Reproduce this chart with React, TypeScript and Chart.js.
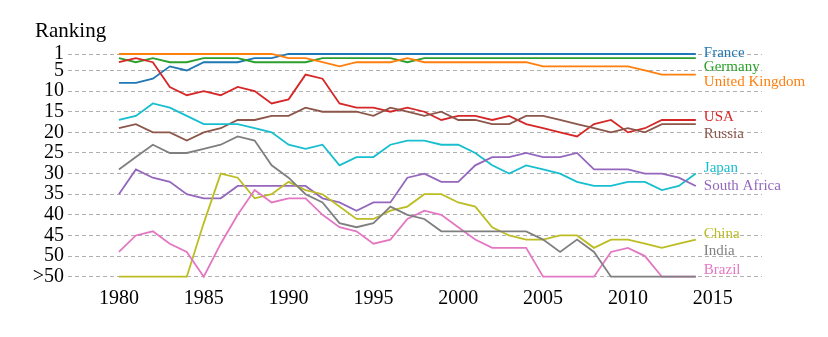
import React, { useEffect, useRef } from "react";
import { Chart, registerables } from "chart.js";

Chart.register(...registerables);

// ---------- data ----------
const years = [
  1980, 1981, 1982, 1983, 1984, 1985, 1986, 1987, 1988, 1989,
  1990, 1991, 1992, 1993, 1994, 1995, 1996, 1997, 1998, 1999,
  2000, 2001, 2002, 2003, 2004, 2005, 2006, 2007, 2008, 2009,
  2010, 2011, 2012, 2013, 2014,
];

const xTickValues = [1980, 1985, 1990, 1995, 2000, 2005, 2010, 2015];
const yTickValues = [1, 5, 10, 15, 20, 25, 30, 35, 40, 45, 50, 55];
const yTickLabels = ["1", "5", "10", "15", "20", "25", "30", "35", "40", "45", "50", ">50"];

const france = [8, 8, 7, 4, 5, 3, 3, 3, 2, 2, 1, 1, 1, 1, 1, 1, 1, 1, 1, 1, 1, 1, 1, 1, 1, 1, 1, 1, 1, 1, 1, 1, 1, 1, 1];
const germany = [2, 3, 2, 3, 3, 2, 2, 2, 3, 3, 3, 3, 2, 2, 2, 2, 2, 3, 2, 2, 2, 2, 2, 2, 2, 2, 2, 2, 2, 2, 2, 2, 2, 2, 2];
const unitedKingdom = [1, 1, 1, 1, 1, 1, 1, 1, 1, 1, 2, 2, 3, 4, 3, 3, 3, 2, 3, 3, 3, 3, 3, 3, 3, 4, 4, 4, 4, 4, 4, 5, 6, 6, 6];
const usa = [3, 2, 3, 9, 11, 10, 11, 9, 10, 13, 12, 6, 7, 13, 14, 14, 15, 14, 15, 17, 16, 16, 17, 16, 18, 19, 20, 21, 18, 17, 20, 19, 17, 17, 17];
const russia = [19, 18, 20, 20, 22, 20, 19, 17, 17, 16, 16, 14, 15, 15, 15, 16, 14, 15, 16, 15, 17, 17, 18, 18, 16, 16, 17, 18, 19, 20, 19, 20, 18, 18, 18];
const japan = [17, 16, 13, 14, 16, 18, 18, 18, 19, 20, 23, 24, 23, 28, 26, 26, 23, 22, 22, 23, 23, 25, 28, 30, 28, 29, 30, 32, 33, 33, 32, 32, 34, 33, 30];
const southAfrica = [35, 29, 31, 32, 35, 36, 36, 33, 33, 33, 33, 33, 36, 37, 39, 37, 37, 31, 30, 32, 32, 28, 26, 26, 25, 26, 26, 25, 29, 29, 29, 30, 30, 31, 33];
const china = [55, 55, 55, 55, 55, 42, 30, 31, 36, 35, 32, 34, 35, 38, 41, 41, 39, 38, 35, 35, 37, 38, 43, 45, 46, 46, 45, 45, 48, 46, 46, 47, 48, 47, 46];
const india = [29, 26, 23, 25, 25, 24, 23, 21, 22, 28, 31, 35, 37, 42, 43, 42, 38, 40, 41, 44, 44, 44, 44, 44, 44, 46, 49, 46, 49, 55, 55, 55, 55, 55, 55];
const brazil = [49, 45, 44, 47, 49, 55, 47, 40, 34, 37, 36, 36, 40, 43, 44, 47, 46, 41, 39, 40, 43, 46, 48, 48, 48, 55, 55, 55, 55, 49, 48, 50, 55, 55, 55];

const seriesNames = ["France", "Germany", "United Kingdom", "USA", "Russia", "Japan", "South Africa", "China", "India", "Brazil"];
const seriesValues = [france, germany, unitedKingdom, usa, russia, japan, southAfrica, china, india, brazil];

// ---------- style ----------
const seriesColors = ["#1f77b4", "#2ca02c", "#ff7f0e", "#d62728", "#8c564b", "#17becf", "#9467bd", "#bcbd22", "#7f7f7f", "#e377c2"];
// vertical nudge (px) of each end label from its line's last point
const labelNudge = [-0.5, 8.5, 7.5, -2.5, 9.5, -5.5, 0, -6, -25.5, -7];
const SERIF = "'Liberation Serif', 'Times New Roman', serif";

const endLabels = {
  id: "endLabels",
  afterDraw(chart: any) {
    const ctx = chart.ctx;
    const xs = chart.scales.x;
    const ys = chart.scales.y;
    ctx.save();
    ctx.font = `15px ${SERIF}`;
    ctx.textBaseline = "middle";
    ctx.textAlign = "left";
    seriesValues.forEach((vals, i) => {
      const last = vals[vals.length - 1];
      const px = xs.getPixelForValue(years[years.length - 1]) + 8;
      const py = ys.getPixelForValue(last) + labelNudge[i];
      ctx.fillStyle = seriesColors[i];
      ctx.fillText(seriesNames[i], px, py);
    });
    ctx.font = `21px ${SERIF}`;
    ctx.fillStyle = "#000";
    ctx.fillText("Ranking", 35, 31);
    ctx.restore();
  },
};

export default function App() {
  const ref = useRef<HTMLCanvasElement | null>(null);

  useEffect(() => {
    if (!ref.current) return;
    const datasets = seriesValues.map((vals, i) => ({
      label: seriesNames[i],
      data: years.map((yr, k) => ({ x: yr, y: vals[k] })),
      borderColor: seriesColors[i],
      backgroundColor: seriesColors[i],
      borderWidth: 1.8,
      pointRadius: 0,
      tension: 0,
      fill: false,
      clip: false as any,
      order: seriesNames[i] === "India" ? 0 : 10 - i,
    }));

    const chart = new Chart(ref.current, {
      type: "line",
      data: { datasets },
      options: {
        animation: false,
        responsive: false,
        devicePixelRatio: 1,
        parsing: false as any,
        layout: { padding: { left: 0, top: 54, right: 66, bottom: 0 } },
        plugins: { legend: { display: false }, tooltip: { enabled: false }, title: { display: false } },
        scales: {
          x: {
            type: "linear",
            min: 1977,
            max: 2017.9,
            grid: { display: false, drawTicks: false },
            border: { display: false },
            afterBuildTicks: (scale: any) => {
              scale.ticks = xTickValues.map((v) => ({ value: v }));
            },
            afterFit: (scale: any) => {
              scale.height = 60.3;
            },
            ticks: {
              color: "#000",
              font: { family: SERIF, size: 20 },
              padding: 10,
              maxRotation: 0,
              autoSkip: false,
              callback: (v: any) => String(v),
            },
          },
          y: {
            type: "linear",
            reverse: true,
            min: 1,
            max: 55,
            grid: { color: "#b0b0b0", lineWidth: 1, drawTicks: false },
            border: { display: false, dash: [4, 3] },
            afterBuildTicks: (scale: any) => {
              scale.ticks = yTickValues.map((v) => ({ value: v }));
            },
            afterFit: (scale: any) => {
              scale.width = 68;
            },
            ticks: {
              color: "#000",
              font: { family: SERIF, size: 20 },
              padding: 4,
              autoSkip: false,
              callback: (v: any) => {
                const idx = yTickValues.indexOf(Number(v));
                return idx >= 0 ? yTickLabels[idx] : "";
              },
            },
          },
        },
      },
      plugins: [endLabels],
    });
    return () => chart.destroy();
  }, []);

  return (
    <div style={{ position: "absolute", left: 0, top: 0, width: 828, height: 337, background: "#fff" }}>
      <canvas ref={ref} width={828} height={337} style={{ display: "block", width: 828, height: 337 }} />
    </div>
  );
}
